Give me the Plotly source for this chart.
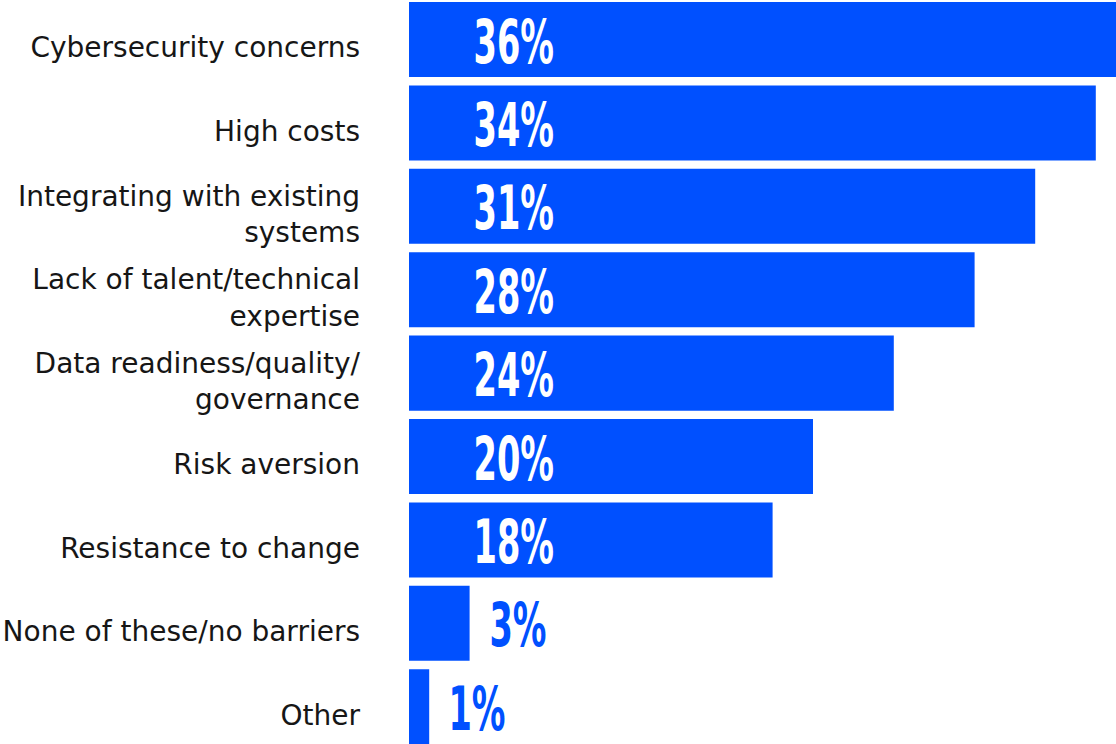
import plotly.graph_objects as go

# Survey: barriers to adoption (share of respondents, %)
categories = [
    "Cybersecurity concerns",
    "High costs",
    "Integrating with existing<br>systems",
    "Lack of talent/technical<br>expertise",
    "Data readiness/quality/<br>governance",
    "Risk aversion",
    "Resistance to change",
    "None of these/no barriers",
    "Other",
]
values = [36, 34, 31, 28, 24, 20, 18, 3, 1]
value_labels = [f"{v}%" for v in values]

BLUE = "#0050FF"
VALUE_FONT = dict(family="DejaVu Sans, sans-serif", size=60, weight=700)
SQUEEZE = 0.56  # horizontal compression applied to the value labels

fig = go.Figure(
    go.Bar(
        x=values,
        y=categories,
        orientation="h",
        width=0.9,
        marker=dict(color=BLUE, line=dict(width=0)),
        hoverinfo="skip",
    )
)

# Value labels: inside near the bar start for long bars, just past the end for short ones
for cat, v, lab in zip(categories, values, value_labels):
    inside = v >= 10
    fig.add_annotation(
        x=0 if inside else v, y=cat, text=lab, showarrow=False,
        xanchor="center", yanchor="middle",
        xshift=105 if inside else 48, yshift=-2,
        font=dict(**VALUE_FONT, color="white" if inside else BLUE),
    )

fig.update_layout(
    width=1116,
    height=744,
    margin=dict(l=409, r=0, t=0, b=0),
    paper_bgcolor="white",
    plot_bgcolor="white",
    showlegend=False,
    xaxis=dict(range=[0, 35], visible=False, fixedrange=True),
    yaxis=dict(
        range=[8.447, -0.474],
        showgrid=False,
        zeroline=False,
        showline=False,
        ticks="",
        ticklabelstandoff=48,
        ticklabelshift=-8,
        tickfont=dict(family="DejaVu Sans, sans-serif", size=28, color="#161616"),
        fixedrange=True,
    ),
)

squeeze_js = """
var gd = document.getElementById('{plot_id}');
function squeezeLabels() {
  gd.querySelectorAll('g.annotation text').forEach(function (t) {
    t.style.transformBox = 'fill-box';
    t.style.transformOrigin = 'center';
    t.style.transform = 'scaleX(%s)';
  });
}
squeezeLabels();
gd.on('plotly_afterplot', squeezeLabels);
""" % SQUEEZE

fig.write_html("out.html", post_script=squeeze_js)
